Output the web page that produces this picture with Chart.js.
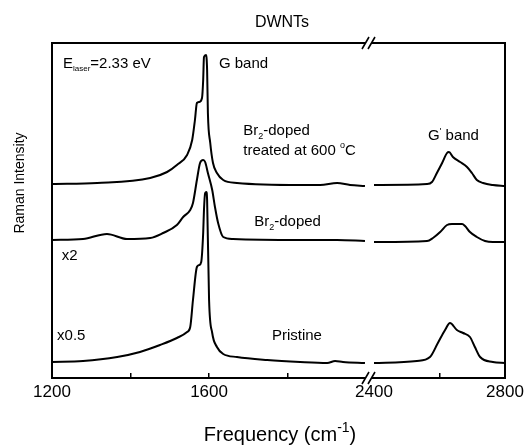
<!DOCTYPE html>
<html><head><meta charset="utf-8">
<script src="https://cdn.jsdelivr.net/npm/chart.js@4.4.0/dist/chart.umd.min.js"></script>
<style>html,body{margin:0;padding:0;background:#fff;}canvas{display:block;}</style>
</head><body>
<canvas id="c" width="527" height="445"></canvas>
<script>
const FONT = '"Liberation Sans", Arial, Helvetica, sans-serif';

// Break axis ranges (cm^-1)
const lowRange = [1200, 2020];
const highRange = [2400, 2800];
const lowTicks = [1200, 1400, 1600, 1800];
const highTicks = [2400, 2600, 2800];
const lowTickLabels = [1200, 1600];
const highTickLabels = [2400, 2800];

// Br2-doped, treated at 600 C (top curve)
const treatedLowFreq = [1200,1315,1450,1493,1518,1544,1557,1564,1569,1575,1582,1585,1587,1592,1595,1597,1603,1610,1620,1636,1671,1832,1883,1926,1959,1997];
const treatedLowInt  = [194,195,200,206,213,223,238,258,275,276,280,298,321,323,308,265,235,215,205,198,195,193,193,195,193,192];
const treatedHighFreq = [2400,2562,2577,2592,2608,2623,2629,2641,2663,2684,2699,2714,2733,2763,2800];
const treatedHighInt  = [193,194,196,205,215,225,226,221,216,211,205,198,195,193,192];

// Br2-doped x2 (middle curve)
const dopedLowFreq = [1200,1279,1340,1391,1450,1483,1518,1534,1552,1559,1569,1577,1585,1590,1597,1608,1615,1623,1636,1661,1832,1926,1997];
const dopedLowInt  = [138,139,144,139,140,145,153,161,168,175,198,215,218,216,205,188,171,155,141,139,138,138,137];
const dopedHighFreq = [2400,2562,2580,2602,2623,2638,2669,2678,2693,2714,2739,2763,2800];
const dopedHighInt  = [136,137,140,146,153,154,154,152,146,141,137,136,136];

// Pristine x0.5 (bottom curve)
const pristineLowFreq = [1200,1279,1366,1424,1475,1518,1544,1552,1559,1569,1575,1580,1585,1587,1590,1593,1595,1600,1608,1620,1636,1671,1748,1832,1901,1921,1941,1997];
const pristineLowInt  = [16,17,21,26,33,40,46,51,78,111,113,116,145,168,185,186,178,78,45,31,24,21,18,16,15,17,16,15];
const pristineHighFreq = [2400,2531,2571,2595,2617,2632,2653,2672,2693,2708,2724,2763,2800];
const pristineHighInt  = [15,17,21,35,48,55,48,45,41,31,21,16,15];

const yRange = [0, 335];

function pts(xs, ys){ return xs.map((x,i)=>({x:x, y:ys[i]})); }
function ds(xs, ys, axis){
  return {data: pts(xs, ys), xAxisID: axis, yAxisID: 'y', borderColor:'#000', borderWidth:2,
          pointRadius:0, fill:false, cubicInterpolationMode:'monotone', clip:false};
}

function drawRich(ctx, x, y, parts){
  let cx = x;
  for (const p of parts){
    ctx.font = p.size + 'px ' + FONT;
    ctx.fillText(p.t, cx, y + (p.dy||0));
    cx += ctx.measureText(p.t).width;
  }
}

const annotations = {
  id: 'annotations',
  afterDraw(chart){
    const ctx = chart.ctx, a = chart.chartArea;
    const x1 = chart.scales.x1, x2 = chart.scales.x2, y = chart.scales.y;
    ctx.save();
    ctx.strokeStyle = '#000'; ctx.fillStyle = '#000';
    const bx = x1.getPixelForValue(lowRange[1]) - 6;
    ctx.lineWidth = 2;
    ctx.beginPath(); ctx.moveTo(a.left, a.top); ctx.lineTo(a.right, a.top); ctx.stroke();
    function brk(cy){
      ctx.fillStyle = '#fff';
      ctx.fillRect(bx-2, cy-3, 6, 6);
      ctx.strokeStyle = '#000'; ctx.lineWidth = 1.6;
      ctx.beginPath();
      ctx.moveTo(bx-6, cy+6); ctx.lineTo(bx+1, cy-6);
      ctx.moveTo(bx, cy+6); ctx.lineTo(bx+7, cy-6);
      ctx.stroke();
    }
    brk(a.top);
    brk(a.bottom);
    ctx.fillStyle = '#000';
    ctx.textBaseline = 'alphabetic';
    ctx.textAlign = 'left';
    const P = (f, v, sc) => [(sc||x1).getPixelForValue(f), y.getPixelForValue(v)];
    let p;
    p = P(1228, 310); drawRich(ctx, p[0], p[1], [{t:'E',size:15},{t:'laser',size:8,dy:3},{t:'=2.33 eV',size:15}]);
    p = P(1625, 310); drawRich(ctx, p[0], p[1], [{t:'G band',size:15}]);
    p = P(1687, 243); drawRich(ctx, p[0], p[1], [{t:'Br',size:15},{t:'2',size:9,dy:4},{t:'-doped',size:15}]);
    p = P(1687, 223); drawRich(ctx, p[0], p[1], [{t:'treated at 600 ',size:15},{t:'o',size:9,dy:-7},{t:'C',size:15}]);
    p = P(2565, 238, x2); drawRich(ctx, p[0], p[1], [{t:'G',size:15},{t:"'",size:9,dy:-6},{t:' band',size:15}]);
    p = P(1715, 152); drawRich(ctx, p[0], p[1], [{t:'Br',size:15},{t:'2',size:9,dy:4},{t:'-doped',size:15}]);
    p = P(1225, 118); drawRich(ctx, p[0], p[1], [{t:'x2',size:15}]);
    p = P(1213, 38); drawRich(ctx, p[0], p[1], [{t:'x0.5',size:15}]);
    p = P(1760, 38); drawRich(ctx, p[0], p[1], [{t:'Pristine',size:15}]);
    ctx.textAlign = 'center';
    ctx.font = '16px ' + FONT;
    ctx.fillText('DWNTs', 282, 27);
    ctx.textAlign = 'left';
    ctx.font = '20px ' + FONT;
    const w1 = ctx.measureText('Frequency (cm').width;
    ctx.font = '14px ' + FONT;
    const w2 = ctx.measureText('-1').width;
    ctx.font = '20px ' + FONT;
    const w3 = ctx.measureText(')').width;
    const tx = 280 - (w1+w2+w3)/2;
    drawRich(ctx, tx, 441, [{t:'Frequency (cm',size:20},{t:'-1',size:14,dy:-9},{t:')',size:20}]);
    ctx.translate(a.left - 32, 183);
    ctx.rotate(-Math.PI/2);
    ctx.textAlign = 'center';
    ctx.textBaseline = 'middle';
    ctx.font = '14px ' + FONT;
    ctx.fillText('Raman Intensity', 0, 0);
    ctx.restore();
  }
};

const gridCfg = (hide) => ({
  display: true, drawOnChartArea: false, drawTicks: true, tickLength: -5,
  color: (c) => (c.tick && hide.includes(c.tick.value)) ? 'rgba(0,0,0,0)' : '#000',
  lineWidth: 1.5
});
const fitX = (s) => { s.height = 67; s.paddingLeft = 0; s.paddingRight = 0; };

new Chart(document.getElementById('c'), {
  type: 'line',
  data: {
    datasets: [
      ds(treatedLowFreq, treatedLowInt, 'x1'),
      ds(treatedHighFreq, treatedHighInt, 'x2'),
      ds(dopedLowFreq, dopedLowInt, 'x1'),
      ds(dopedHighFreq, dopedHighInt, 'x2'),
      ds(pristineLowFreq, pristineLowInt, 'x1'),
      ds(pristineHighFreq, pristineHighInt, 'x2')
    ]
  },
  options: {
    responsive: false, animation: false, devicePixelRatio: 1,
    layout: { padding: { left: 52, right: 22, top: 43, bottom: 0 } },
    plugins: { legend: { display: false }, tooltip: { enabled: false } },
    scales: {
      x1: {
        type: 'linear', position: 'bottom', stack: 'freq', stackWeight: 322,
        min: lowRange[0], max: lowRange[1],
        afterBuildTicks: (s) => { s.ticks = lowTicks.map(v => ({value: v})); },
        ticks: { autoSkip: false, maxRotation: 0, padding: 9,
                 color: '#000', font: { size: 17, family: FONT },
                 callback: (v) => lowTickLabels.includes(v) ? String(v) : '' },
        grid: gridCfg([1200]),
        border: { display: true, color: '#000', width: 2 },
        afterFit: fitX
      },
      x2: {
        type: 'linear', position: 'bottom', stack: 'freq', stackWeight: 131,
        min: highRange[0], max: highRange[1],
        afterBuildTicks: (s) => { s.ticks = highTicks.map(v => ({value: v})); },
        ticks: { autoSkip: false, maxRotation: 0, padding: 9,
                 color: '#000', font: { size: 17, family: FONT },
                 callback: (v) => highTickLabels.includes(v) ? String(v) : '' },
        grid: gridCfg([2400, 2800]),
        border: { display: true, color: '#000', width: 2 },
        afterFit: fitX
      },
      y: {
        type: 'linear', position: 'left', min: yRange[0], max: yRange[1],
        ticks: { display: false }, grid: { display: false },
        border: { display: true, color: '#000', width: 2 },
        afterFit: (s) => { s.width = 0; }
      },
      y2: {
        type: 'linear', position: 'right', display: true,
        ticks: { display: false }, grid: { display: false },
        border: { display: true, color: '#000', width: 2 },
        afterFit: (s) => { s.width = 0; }
      }
    }
  },
  plugins: [annotations]
});
</script>
</body></html>
